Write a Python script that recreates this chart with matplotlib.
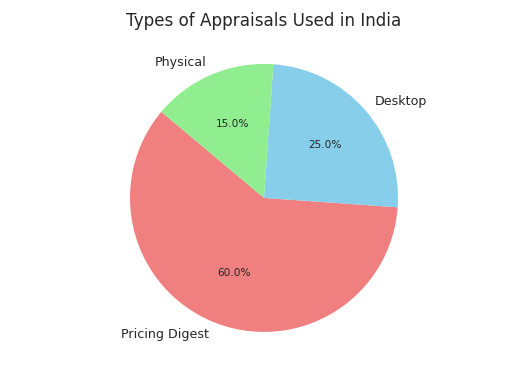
import matplotlib
matplotlib.use('Agg')
import matplotlib.pyplot as plt

labels = ['Pricing Digest', 'Desktop', 'Physical']
sizes = [60, 25, 15]
colors = ['lightcoral', 'skyblue', 'lightgreen']

plt.rcParams['text.color'] = '#262626'

W, H = 528, 377
fig = plt.figure(figsize=(7, 5))
# pie centre at (264, 198) px from top-left, radius ~134 px
r = 134
ax = fig.add_axes([(264 - 1.25 * r) / W, (H - 198 - 1.25 * r) / H,
                   2.5 * r / W, 2.5 * r / H])
wedges, texts, autotexts = ax.pie(sizes, labels=labels, colors=colors,
                                  autopct='%1.1f%%', startangle=140,
                                  textprops={'fontsize': 12})
for t in autotexts:
    t.set_fontsize(10)
ax.set_title('Types of Appraisals Used in India', fontsize=16, pad=4)
plt.savefig('out.png', dpi=528 / 7)
